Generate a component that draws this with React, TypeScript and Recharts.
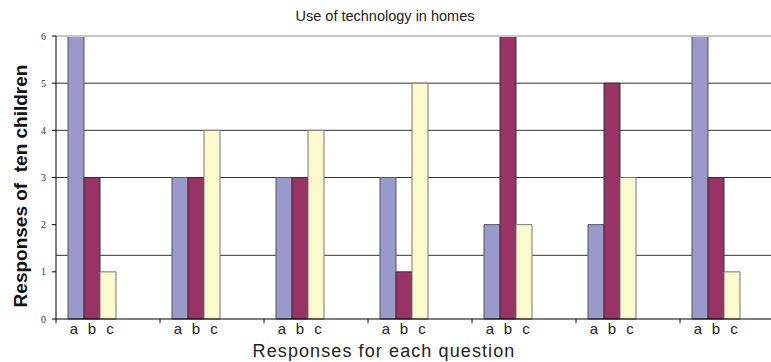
import { Bar, BarChart, CartesianGrid, Rectangle, ReferenceLine, XAxis, YAxis } from "recharts";

const questions = ["Q1", "Q2", "Q3", "Q4", "Q5", "Q6", "Q7"];
const aValues = [6, 3, 3, 3, 2, 2, 6];
const bValues = [3, 3, 3, 1, 6, 5, 3];
const cValues = [1, 4, 4, 5, 2, 3, 1];
const barLetters = ["a", "b", "c"];
const yTicks = [0, 1, 2, 3, 4, 5, 6];
const gridValues = [1, 1.35, 3, 4, 5];

const data = questions.map((q, i) => ({ q, a: aValues[i], b: bValues[i], c: cValues[i] }));

const CHART_W = 800;
const LEFT = 56;
const RIGHT = 16;
const band = (CHART_W - LEFT - RIGHT) / questions.length;
const SHIFT = -16;

const sans = "'Liberation Sans', Arial, sans-serif";

const shifted = (props: any) => <Rectangle {...props} x={props.x + SHIFT} />;

const LetterTick = (props: any) => {
  const { x, y } = props;
  const left = x - band / 2;
  return (
    <g>
      <line x1={left} y1={y - 8} x2={left} y2={y - 4} stroke="#000" />
      {barLetters.map((l, i) => (
        <text
          key={l}
          x={x + SHIFT + (i - 1) * 16 + (i === 0 ? -2 : i === 2 ? 2 : 0)}
          y={y + 7}
          textAnchor="middle"
          fontFamily={sans}
          fontSize={15}
          fill="#222"
        >
          {l}
        </text>
      ))}
    </g>
  );
};

const YLabel = () => (
  <text
    x={20}
    y={186}
    transform="rotate(-90 20 186)"
    textAnchor="middle"
    dominantBaseline="central"
    fontFamily={sans}
    fontSize={19}
    fontWeight="bold"
    fill="#111"
    style={{ whiteSpace: "pre" }}
  >
    {"Responses of  ten children"}
  </text>
);

export default function App() {
  return (
    <div
      style={{
        position: "absolute",
        left: 0,
        top: 0,
        width: 771,
        height: 362,
        overflow: "hidden",
        background: "#fff",
      }}
    >
      <div
        style={{
          position: "absolute",
          top: 8,
          left: 385,
          transform: "translateX(-50%)",
          whiteSpace: "nowrap",
          fontFamily: sans,
          fontSize: 14.5,
          color: "#222",
        }}
      >
        Use of technology in homes
      </div>
      <div
        style={{
          position: "absolute",
          top: 341,
          left: 384,
          transform: "translateX(-50%)",
          whiteSpace: "nowrap",
          fontFamily: sans,
          fontSize: 18,
          letterSpacing: 1.1,
          color: "#222",
        }}
      >
        Responses for each question
      </div>
      <div style={{ position: "absolute", left: 0, top: 0 }}>
        <BarChart
          width={CHART_W}
          height={362}
          data={data}
          margin={{ top: 36, right: RIGHT, left: 0, bottom: 0 }}
          barGap={0}
          barSize={16}
        >
          <CartesianGrid horizontal vertical={false} horizontalValues={gridValues} stroke="#333" strokeOpacity={1} />
          <ReferenceLine y={6} stroke="#c8c8c8" strokeWidth={2} />
          <XAxis
            dataKey="q"
            height={43}
            axisLine={{ stroke: "#000" }}
            tickLine={false}
            tick={<LetterTick />}
            interval={0}
          />
          <YAxis
            width={LEFT}
            domain={[0, 6]}
            ticks={yTicks}
            tickSize={4}
            tickMargin={6}
            axisLine={{ stroke: "#000" }}
            tickLine={{ stroke: "#000" }}
            tick={{ fontFamily: "'Liberation Serif', serif", fontSize: 10, fill: "#333" }}
            label={<YLabel />}
          />
          <Bar dataKey="a" fill="#9999cc" stroke="#555" strokeWidth={1} shape={shifted} isAnimationActive={false} />
          <Bar dataKey="b" fill="#993366" stroke="#333" strokeWidth={1} shape={shifted} isAnimationActive={false} />
          <Bar dataKey="c" fill="#fdf9cf" stroke="#777" strokeWidth={1} shape={shifted} isAnimationActive={false} />
        </BarChart>
      </div>
    </div>
  );
}
